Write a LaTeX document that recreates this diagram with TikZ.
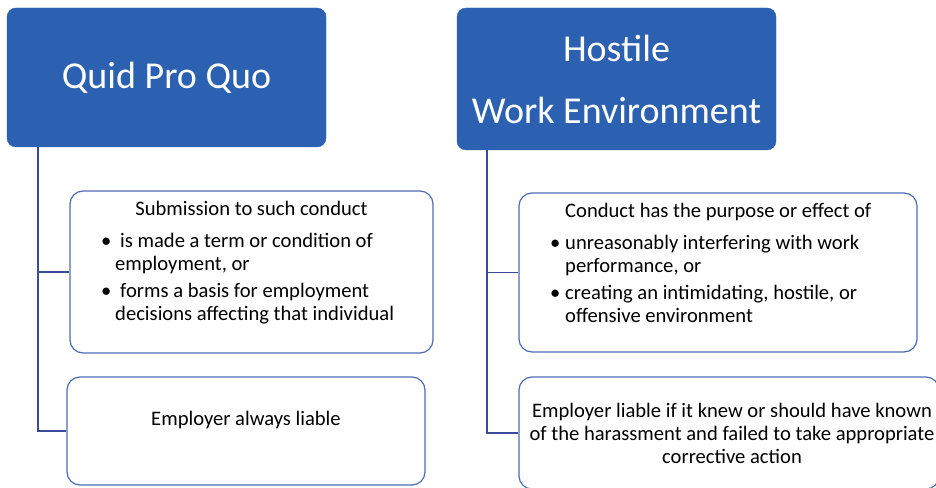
\documentclass[tikz,border=0pt]{standalone}
\usepackage{fontspec}
\setmainfont{Carlito}
\definecolor{hdr}{HTML}{2C61B1}
\definecolor{bord}{HTML}{4C6DB3}
\definecolor{conn}{HTML}{3B4A9A}
\tikzset{
  x=1pt,y=1pt,
  header/.style={draw=hdr, fill=hdr, rounded corners=9pt, inner sep=0pt, text=white, font=\fontsize{38}{52}\selectfont, align=center},
  box/.style={draw=bord, line width=1.2pt, rounded corners=13pt, fill=white, inner sep=0pt},
  txt/.style={font=\fontsize{20.6}{23}\selectfont, inner sep=0pt, anchor=base west},
  ctxt/.style={font=\fontsize{20.6}{23}\selectfont, inner sep=0pt, align=center},
  conn/.style={draw=conn, line width=1.5pt}
}
\begin{document}
\begin{tikzpicture}
\useasboundingbox (0,0) rectangle (936,487);
\clip (0,0) rectangle (936,487);
% headers
\node[header, minimum width=319, minimum height=139] (h1) at (166.5,409.5) {};
\node[text=white, font=\fontsize{38}{52}\selectfont, inner sep=0pt] (h1t) at (h1.center) {Quid Pro Quo};
\node[header, minimum width=319, minimum height=142] (h2) at (616.5,408) {};
\node[text=white, font=\fontsize{38}{62}\selectfont, inner sep=0pt, align=center] (h2t) at (h2.center) {Hostile\\Work Environment};
% boxes
\node[box, minimum width=363, minimum height=162] (b1) at (251.5,215) {};
\node[box, minimum width=358, minimum height=108] (b2) at (246,56) {};
\node[box, minimum width=398, minimum height=159] (b3) at (718,214.5) {};
\node[box, minimum width=420, minimum height=112] (b4) at (729,54) {};
% connectors
\coordinate (t1) at ([xshift=31pt]h1.south west);
\coordinate (t2) at ([xshift=30pt]h2.south west);
\draw[conn] (t1) |- (b1.west);
\draw[conn] (t1) |- (b2.west);
\draw[conn] (t2) |- (b3.west);
\draw[conn] (t2) |- (b4.west);
% box 1 text
\node[txt, anchor=base] (s1) at (251.5,271.5) {Submission to such conduct};
\node[txt] (s1a) at (101,239.5) {\textbullet};
\node[txt] (s1b) at (120,239.5) {is made a term or condition of};
\node[txt] (s1c) at (115,216.5) {employment, or};
\node[txt] (s1d) at (101,189.5) {\textbullet};
\node[txt] (s1e) at (120,189.5) {forms a basis for employment};
\node[txt] (s1f) at (115,166.5) {decisions affecting that individual};
% box 2
\node[txt, anchor=base] (s2) at (246,62) {Employer always liable};
% box 3 text
\node[txt] (s3) at (565,269) {Conduct has the purpose or effect of};
\node[txt] (s3a) at (550,237.5) {\textbullet};
\node[txt] (s3b) at (565,237.5) {unreasonably interfering with work};
\node[txt] (s3c) at (565,214.5) {performance, or};
\node[txt] (s3d) at (550,187.5) {\textbullet};
\node[txt] (s3e) at (565,187.5) {creating an intimidating, hostile, or};
\node[txt] (s3f) at (565,164.5) {offensive environment};
% box 4 text
\node[ctxt, anchor=north] (s4) at (732,84) {Employer liable if it knew or should have known\\of the harassment and failed to take appropriate\\corrective action};
\end{tikzpicture}
\end{document}
